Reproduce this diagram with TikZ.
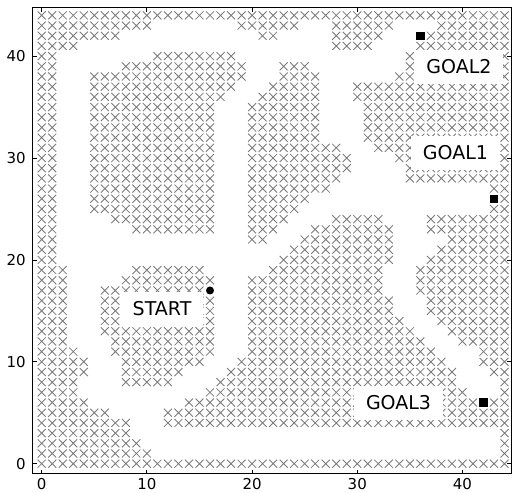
\documentclass[tikz,border=0pt]{standalone}
\usepackage{fontspec}
\setmainfont{DejaVu Sans}

% one row of blocked cells: row index, list of first/last column
\newcommand{\obsrow}[2]{%
  \foreach \a/\b in {#2}{%
    \foreach \i in {\a,...,\b}{%
      \draw[xmark] (\i,#1) +(-4pt,-4pt) -- +(4pt,4pt) +(-4pt,4pt) -- +(4pt,-4pt);
    }}}

\begin{document}
\begin{tikzpicture}[x=10.52pt,y=10.19pt,
  xmark/.style={draw=black!52,line width=0.85pt},
  tagbox/.style={fill=white,inner xsep=12pt,minimum height=34pt,
    font=\fontsize{19}{22}\selectfont},
  goalpt/.style={fill=black,minimum size=8.5pt,inner sep=0pt},
  startpt/.style={circle,fill=black,minimum size=8pt,inner sep=0pt},
  ticklbl/.style={inner sep=0pt,font=\fontsize{15}{17}\selectfont}
]
  \useasboundingbox (-3.964,-2.875) rectangle (44.90,45.51);

  % obstacles
  \obsrow{44}{0/44}
  \obsrow{43}{0/10,19/24,28/33,38/44}
  \obsrow{42}{0/7,21/22,28/32,37/44}
  \obsrow{41}{0/3,28/31,36/44}
  \obsrow{40}{0/1,11/18,35/44}
  \obsrow{39}{0/1,8/19,23/25,35/44}
  \obsrow{38}{0/1,5/19,23/26,34/44}
  \obsrow{37}{0/1,5/18,22/26,30/44}
  \obsrow{36}{0/1,5/17,21/26,30/44}
  \obsrow{35}{0/1,5/16,20/26,31/44}
  \obsrow{34}{0/1,5/16,20/26,31/44}
  \obsrow{33}{0/1,5/16,20/26,31/44}
  \obsrow{32}{0/1,5/16,20/26,31/44}
  \obsrow{31}{0/1,5/16,20/28,32/44}
  \obsrow{30}{0/1,5/16,20/29,34/44}
  \obsrow{29}{0/1,5/16,20/29,35/44}
  \obsrow{28}{0/1,5/16,20/28,35/44}
  \obsrow{27}{0/1,5/16,20/27,43/44}
  \obsrow{26}{0/1,5/16,20/25,44/44}
  \obsrow{25}{0/1,5/16,20/24,43/44}
  \obsrow{24}{0/1,7/16,20/23,28/32,37/44}
  \obsrow{23}{0/1,9/16,20/22,26/33,37/44}
  \obsrow{22}{0/1,20/21,25/33,39/44}
  \obsrow{21}{0/1,24/33,38/44}
  \obsrow{20}{0/1,23/33,37/44}
  \obsrow{19}{0/2,9/15,22/32,36/44}
  \obsrow{18}{0/2,8/16,20/32,36/44}
  \obsrow{17}{0/2,6/15,20/32,36/44}
  \obsrow{16}{0/2,6/16,20/33,37/44}
  \obsrow{15}{0/2,6/16,20/33,37/44}
  \obsrow{14}{0/2,6/16,20/34,38/44}
  \obsrow{13}{0/2,6/16,20/35,39/44}
  \obsrow{12}{0/2,7/16,20/36,40/44}
  \obsrow{11}{0/3,7/16,20/37,42/44}
  \obsrow{10}{0/4,8/15,19/38,42/44}
  \obsrow{9}{0/4,8/13,18/39,43/44}
  \obsrow{8}{0/3,8/12,17/39,44/44}
  \obsrow{7}{0/3,16/40,44/44}
  \obsrow{6}{0/4,14/41,43/44}
  \obsrow{5}{0/6,12/44}
  \obsrow{4}{0/8,12/44}
  \obsrow{3}{0/8,44/44}
  \obsrow{2}{0/9,44/44}
  \obsrow{1}{0/10,44/44}
  \obsrow{0}{0/44}

  % start and goals
  \node[startpt] (start) at (16,17) {};
  \node[goalpt] (goalA) at (43,26) {};
  \node[goalpt] (goalB) at (36,42) {};
  \node[goalpt] (goalC) at (42,6) {};

  \node[tagbox] (startlbl) at (11.44,15.23) {START};
  \node[tagbox] (goalAlbl) at (39.33,30.54) {GOAL1};
  \node[tagbox] (goalBlbl) at (39.67,38.98) {GOAL2};
  \node[tagbox] (goalClbl) at (33.92,6.0) {GOAL3};

  % axes frame, ticks, tick labels
  \draw[line width=1pt] (-0.83,-0.98) rectangle (44.66,44.75);
  \foreach \k in {0,10,20,30,40}{
    \draw[line width=0.8pt] (\k,-0.98) -- ++(0,4pt) (\k,44.75) -- ++(0,-4pt);
    \draw[line width=0.8pt] (-0.83,\k) -- ++(4pt,0) (44.66,\k) -- ++(-4pt,0);
    \node[ticklbl,anchor=north] (xl\k) at ([yshift=-4pt]\k,-0.98) {\k};
    \node[ticklbl,anchor=east] (yl\k) at ([xshift=-7pt]-0.83,\k) {\k};
  }
\end{tikzpicture}
\end{document}
